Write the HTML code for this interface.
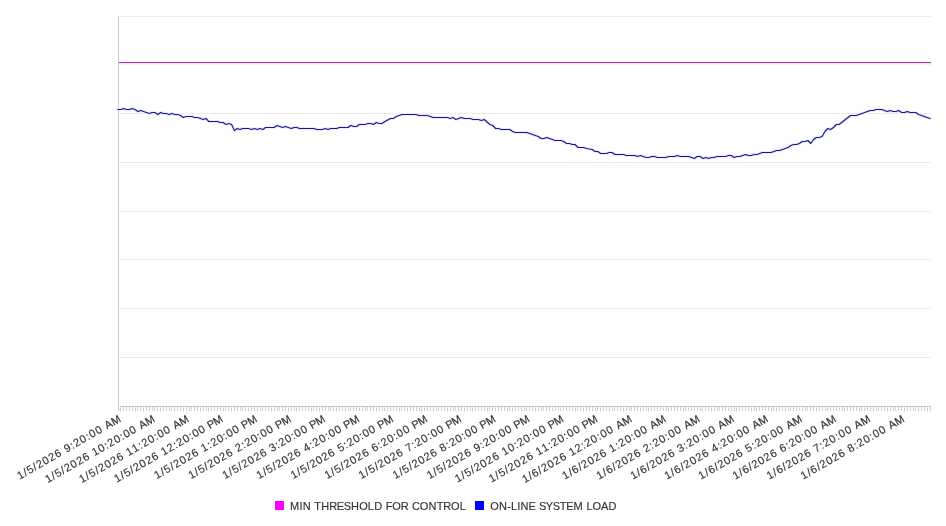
<!DOCTYPE html><html><head><meta charset="utf-8"><style>html,body{margin:0;padding:0;background:#fff;}body{width:946px;height:526px;overflow:hidden;}svg{display:block;will-change:transform;}text{font-family:"Liberation Sans",sans-serif;stroke:#333;stroke-width:0.15px;}</style></head><body>
<svg width="946" height="526" viewBox="0 0 946 526">
<rect x="119" y="16" width="812" height="1" fill="#ebebeb"/>
<rect x="119" y="113" width="812" height="1" fill="#ebebeb"/>
<rect x="119" y="162" width="812" height="1" fill="#ebebeb"/>
<rect x="119" y="211" width="812" height="1" fill="#ebebeb"/>
<rect x="119" y="259" width="812" height="1" fill="#ebebeb"/>
<rect x="119" y="308" width="812" height="1" fill="#ebebeb"/>
<rect x="119" y="357" width="812" height="1" fill="#ebebeb"/>
<rect x="119" y="62" width="812" height="1" fill="#a340a3"/>
<rect x="119" y="63" width="812" height="1" fill="#ffd2ff"/>
<rect x="119" y="64" width="812" height="1" fill="#ffe6ff"/>
<rect x="118" y="16" width="1" height="395" fill="#c8c8c8"/>
<rect x="120" y="406" width="811" height="1" fill="#c8c8c8"/>
<path d="M120.5 407v4M123.5 407v4M126.5 407v4M129.5 407v4M132.5 407v4M135.5 407v4M137.5 407v4M140.5 407v4M143.5 407v4M146.5 407v4M149.5 407v4M152.5 407v4M154.5 407v4M157.5 407v4M160.5 407v4M163.5 407v4M166.5 407v4M169.5 407v4M171.5 407v4M174.5 407v4M177.5 407v4M180.5 407v4M183.5 407v4M186.5 407v4M189.5 407v4M191.5 407v4M194.5 407v4M197.5 407v4M200.5 407v4M203.5 407v4M206.5 407v4M208.5 407v4M211.5 407v4M214.5 407v4M217.5 407v4M220.5 407v4M223.5 407v4M225.5 407v4M228.5 407v4M231.5 407v4M234.5 407v4M237.5 407v4M240.5 407v4M242.5 407v4M245.5 407v4M248.5 407v4M251.5 407v4M254.5 407v4M257.5 407v4M260.5 407v4M262.5 407v4M265.5 407v4M268.5 407v4M271.5 407v4M274.5 407v4M277.5 407v4M279.5 407v4M282.5 407v4M285.5 407v4M288.5 407v4M291.5 407v4M294.5 407v4M296.5 407v4M299.5 407v4M302.5 407v4M305.5 407v4M308.5 407v4M311.5 407v4M313.5 407v4M316.5 407v4M319.5 407v4M322.5 407v4M325.5 407v4M328.5 407v4M330.5 407v4M333.5 407v4M336.5 407v4M339.5 407v4M342.5 407v4M345.5 407v4M348.5 407v4M350.5 407v4M353.5 407v4M356.5 407v4M359.5 407v4M362.5 407v4M365.5 407v4M367.5 407v4M370.5 407v4M373.5 407v4M376.5 407v4M379.5 407v4M382.5 407v4M384.5 407v4M387.5 407v4M390.5 407v4M393.5 407v4M396.5 407v4M399.5 407v4M401.5 407v4M404.5 407v4M407.5 407v4M410.5 407v4M413.5 407v4M416.5 407v4M419.5 407v4M421.5 407v4M424.5 407v4M427.5 407v4M430.5 407v4M433.5 407v4M436.5 407v4M438.5 407v4M441.5 407v4M444.5 407v4M447.5 407v4M450.5 407v4M453.5 407v4M455.5 407v4M458.5 407v4M461.5 407v4M464.5 407v4M467.5 407v4M470.5 407v4M472.5 407v4M475.5 407v4M478.5 407v4M481.5 407v4M484.5 407v4M487.5 407v4M489.5 407v4M492.5 407v4M495.5 407v4M498.5 407v4M501.5 407v4M504.5 407v4M507.5 407v4M509.5 407v4M512.5 407v4M515.5 407v4M518.5 407v4M521.5 407v4M524.5 407v4M526.5 407v4M529.5 407v4M532.5 407v4M535.5 407v4M538.5 407v4M541.5 407v4M543.5 407v4M546.5 407v4M549.5 407v4M552.5 407v4M555.5 407v4M558.5 407v4M560.5 407v4M563.5 407v4M566.5 407v4M569.5 407v4M572.5 407v4M575.5 407v4M577.5 407v4M580.5 407v4M583.5 407v4M586.5 407v4M589.5 407v4M592.5 407v4M595.5 407v4M597.5 407v4M600.5 407v4M603.5 407v4M606.5 407v4M609.5 407v4M612.5 407v4M614.5 407v4M617.5 407v4M620.5 407v4M623.5 407v4M626.5 407v4M629.5 407v4M631.5 407v4M634.5 407v4M637.5 407v4M640.5 407v4M643.5 407v4M646.5 407v4M648.5 407v4M651.5 407v4M654.5 407v4M657.5 407v4M660.5 407v4M663.5 407v4M666.5 407v4M668.5 407v4M671.5 407v4M674.5 407v4M677.5 407v4M680.5 407v4M683.5 407v4M685.5 407v4M688.5 407v4M691.5 407v4M694.5 407v4M697.5 407v4M700.5 407v4M702.5 407v4M705.5 407v4M708.5 407v4M711.5 407v4M714.5 407v4M717.5 407v4M719.5 407v4M722.5 407v4M725.5 407v4M728.5 407v4M731.5 407v4M734.5 407v4M736.5 407v4M739.5 407v4M742.5 407v4M745.5 407v4M748.5 407v4M751.5 407v4M754.5 407v4M756.5 407v4M759.5 407v4M762.5 407v4M765.5 407v4M768.5 407v4M771.5 407v4M773.5 407v4M776.5 407v4M779.5 407v4M782.5 407v4M785.5 407v4M788.5 407v4M790.5 407v4M793.5 407v4M796.5 407v4M799.5 407v4M802.5 407v4M805.5 407v4M807.5 407v4M810.5 407v4M813.5 407v4M816.5 407v4M819.5 407v4M822.5 407v4M825.5 407v4M827.5 407v4M830.5 407v4M833.5 407v4M836.5 407v4M839.5 407v4M842.5 407v4M844.5 407v4M847.5 407v4M850.5 407v4M853.5 407v4M856.5 407v4M859.5 407v4M861.5 407v4M864.5 407v4M867.5 407v4M870.5 407v4M873.5 407v4M876.5 407v4M878.5 407v4M881.5 407v4M884.5 407v4M887.5 407v4M890.5 407v4M893.5 407v4M895.5 407v4M898.5 407v4M901.5 407v4M904.5 407v4M907.5 407v4M910.5 407v4M913.5 407v4M915.5 407v4M918.5 407v4M921.5 407v4M924.5 407v4M927.5 407v4M930.5 407v4" stroke="#cfcfcf" stroke-width="1" fill="none"/>
<path d="M118.00 109.5 L120.84 109.5 L123.68 108.5 L126.52 109.5 L129.36 109.5 L132.20 108.5 L135.03 109.5 L137.87 111.5 L140.71 110.5 L143.55 111.5 L146.39 112.5 L149.23 113.5 L152.07 112.5 L154.91 112.5 L157.75 114.5 L160.59 112.5 L163.43 113.5 L166.27 113.5 L169.10 114.5 L171.94 113.5 L174.78 114.5 L177.62 114.5 L180.46 115.5 L183.30 117.5 L186.14 116.5 L191.82 116.5 L194.66 117.5 L197.50 117.5 L200.34 118.5 L203.17 119.5 L206.01 118.5 L208.85 121.5 L211.69 121.5 L217.37 121.5 L220.21 122.5 L223.05 122.5 L225.89 124.5 L228.73 123.5 L231.57 124.5 L234.41 130.5 L237.24 128.5 L240.08 129.5 L242.92 128.5 L248.60 128.5 L251.44 129.5 L254.28 128.5 L257.12 129.5 L259.96 128.5 L262.80 129.5 L265.64 127.5 L274.15 127.5 L276.99 125.5 L279.83 126.5 L282.67 127.5 L285.51 126.5 L288.35 127.5 L291.19 128.5 L294.03 127.5 L296.87 127.5 L299.71 128.5 L313.90 128.5 L316.74 129.5 L322.42 129.5 L325.26 128.5 L328.10 129.5 L330.94 128.5 L336.62 128.5 L339.45 127.5 L347.97 127.5 L350.81 125.5 L353.65 126.5 L356.49 126.5 L359.33 124.5 L365.01 124.5 L367.85 123.5 L370.69 123.5 L373.52 124.5 L376.36 122.5 L379.20 123.5 L382.04 123.5 L384.88 121.5 L390.56 118.5 L393.40 118.5 L396.24 116.5 L399.08 115.5 L401.92 114.5 L416.11 114.5 L418.95 115.5 L427.47 115.5 L430.31 116.5 L433.15 117.5 L447.34 117.5 L450.18 118.5 L453.02 117.5 L455.86 119.5 L458.70 118.5 L461.54 117.5 L464.38 118.5 L470.06 118.5 L472.90 119.5 L478.57 119.5 L481.41 120.5 L484.25 119.5 L489.93 124.5 L492.77 125.5 L495.61 128.5 L498.45 128.5 L501.29 129.5 L509.80 129.5 L512.64 131.5 L515.48 132.5 L526.84 132.5 L529.68 133.5 L532.52 134.5 L535.36 135.5 L538.20 136.5 L541.03 138.5 L543.87 138.5 L546.71 137.5 L549.55 138.5 L552.39 139.5 L555.23 140.5 L560.91 140.5 L563.75 141.5 L566.59 143.5 L569.43 143.5 L572.27 144.5 L575.10 144.5 L577.94 147.5 L583.62 147.5 L586.46 148.5 L592.14 149.5 L594.98 151.5 L597.82 151.5 L600.66 153.5 L606.34 153.5 L609.17 152.5 L612.01 152.5 L614.85 154.5 L623.37 154.5 L626.21 155.5 L634.73 155.5 L637.57 156.5 L640.41 155.5 L643.24 156.5 L646.08 157.5 L648.92 157.5 L651.76 156.5 L654.60 156.5 L657.44 157.5 L665.96 157.5 L668.80 156.5 L674.48 156.5 L677.31 155.5 L680.15 156.5 L688.67 156.5 L691.51 157.5 L694.35 158.5 L697.19 156.5 L700.03 156.5 L702.87 158.5 L705.71 157.5 L708.55 158.5 L711.38 157.5 L714.22 157.5 L717.06 156.5 L725.58 156.5 L728.42 155.5 L731.26 155.5 L734.10 157.5 L736.94 156.5 L739.78 156.5 L742.62 155.5 L745.45 154.5 L748.29 155.5 L751.13 155.5 L753.97 154.5 L756.81 154.5 L759.65 153.5 L762.49 152.5 L771.01 152.5 L773.85 151.5 L776.69 150.5 L779.52 150.5 L782.36 149.5 L785.20 148.5 L788.04 147.5 L790.88 145.5 L793.72 144.5 L796.56 144.5 L799.40 143.5 L802.24 141.5 L805.08 141.5 L807.92 140.5 L810.76 143.5 L813.59 139.5 L816.43 137.5 L819.27 137.5 L822.11 136.5 L824.95 131.5 L827.79 128.5 L830.63 129.5 L833.47 127.5 L836.31 124.5 L839.15 124.5 L850.50 115.5 L856.18 115.5 L870.38 110.5 L873.22 110.5 L876.06 109.5 L881.73 109.5 L884.57 110.5 L887.41 111.5 L890.25 110.5 L893.09 111.5 L895.93 111.5 L898.77 110.5 L901.61 112.5 L904.45 112.5 L907.29 111.5 L910.13 112.5 L915.80 112.5 L918.64 114.5 L924.32 116.5 L930.00 118.5" stroke="#e8e8ff" stroke-width="3" fill="none" stroke-linejoin="round" stroke-linecap="square"/>
<path d="M118.00 109.5 L120.84 109.5 L123.68 108.5 L126.52 109.5 L129.36 109.5 L132.20 108.5 L135.03 109.5 L137.87 111.5 L140.71 110.5 L143.55 111.5 L146.39 112.5 L149.23 113.5 L152.07 112.5 L154.91 112.5 L157.75 114.5 L160.59 112.5 L163.43 113.5 L166.27 113.5 L169.10 114.5 L171.94 113.5 L174.78 114.5 L177.62 114.5 L180.46 115.5 L183.30 117.5 L186.14 116.5 L191.82 116.5 L194.66 117.5 L197.50 117.5 L200.34 118.5 L203.17 119.5 L206.01 118.5 L208.85 121.5 L211.69 121.5 L217.37 121.5 L220.21 122.5 L223.05 122.5 L225.89 124.5 L228.73 123.5 L231.57 124.5 L234.41 130.5 L237.24 128.5 L240.08 129.5 L242.92 128.5 L248.60 128.5 L251.44 129.5 L254.28 128.5 L257.12 129.5 L259.96 128.5 L262.80 129.5 L265.64 127.5 L274.15 127.5 L276.99 125.5 L279.83 126.5 L282.67 127.5 L285.51 126.5 L288.35 127.5 L291.19 128.5 L294.03 127.5 L296.87 127.5 L299.71 128.5 L313.90 128.5 L316.74 129.5 L322.42 129.5 L325.26 128.5 L328.10 129.5 L330.94 128.5 L336.62 128.5 L339.45 127.5 L347.97 127.5 L350.81 125.5 L353.65 126.5 L356.49 126.5 L359.33 124.5 L365.01 124.5 L367.85 123.5 L370.69 123.5 L373.52 124.5 L376.36 122.5 L379.20 123.5 L382.04 123.5 L384.88 121.5 L390.56 118.5 L393.40 118.5 L396.24 116.5 L399.08 115.5 L401.92 114.5 L416.11 114.5 L418.95 115.5 L427.47 115.5 L430.31 116.5 L433.15 117.5 L447.34 117.5 L450.18 118.5 L453.02 117.5 L455.86 119.5 L458.70 118.5 L461.54 117.5 L464.38 118.5 L470.06 118.5 L472.90 119.5 L478.57 119.5 L481.41 120.5 L484.25 119.5 L489.93 124.5 L492.77 125.5 L495.61 128.5 L498.45 128.5 L501.29 129.5 L509.80 129.5 L512.64 131.5 L515.48 132.5 L526.84 132.5 L529.68 133.5 L532.52 134.5 L535.36 135.5 L538.20 136.5 L541.03 138.5 L543.87 138.5 L546.71 137.5 L549.55 138.5 L552.39 139.5 L555.23 140.5 L560.91 140.5 L563.75 141.5 L566.59 143.5 L569.43 143.5 L572.27 144.5 L575.10 144.5 L577.94 147.5 L583.62 147.5 L586.46 148.5 L592.14 149.5 L594.98 151.5 L597.82 151.5 L600.66 153.5 L606.34 153.5 L609.17 152.5 L612.01 152.5 L614.85 154.5 L623.37 154.5 L626.21 155.5 L634.73 155.5 L637.57 156.5 L640.41 155.5 L643.24 156.5 L646.08 157.5 L648.92 157.5 L651.76 156.5 L654.60 156.5 L657.44 157.5 L665.96 157.5 L668.80 156.5 L674.48 156.5 L677.31 155.5 L680.15 156.5 L688.67 156.5 L691.51 157.5 L694.35 158.5 L697.19 156.5 L700.03 156.5 L702.87 158.5 L705.71 157.5 L708.55 158.5 L711.38 157.5 L714.22 157.5 L717.06 156.5 L725.58 156.5 L728.42 155.5 L731.26 155.5 L734.10 157.5 L736.94 156.5 L739.78 156.5 L742.62 155.5 L745.45 154.5 L748.29 155.5 L751.13 155.5 L753.97 154.5 L756.81 154.5 L759.65 153.5 L762.49 152.5 L771.01 152.5 L773.85 151.5 L776.69 150.5 L779.52 150.5 L782.36 149.5 L785.20 148.5 L788.04 147.5 L790.88 145.5 L793.72 144.5 L796.56 144.5 L799.40 143.5 L802.24 141.5 L805.08 141.5 L807.92 140.5 L810.76 143.5 L813.59 139.5 L816.43 137.5 L819.27 137.5 L822.11 136.5 L824.95 131.5 L827.79 128.5 L830.63 129.5 L833.47 127.5 L836.31 124.5 L839.15 124.5 L850.50 115.5 L856.18 115.5 L870.38 110.5 L873.22 110.5 L876.06 109.5 L881.73 109.5 L884.57 110.5 L887.41 111.5 L890.25 110.5 L893.09 111.5 L895.93 111.5 L898.77 110.5 L901.61 112.5 L904.45 112.5 L907.29 111.5 L910.13 112.5 L915.80 112.5 L918.64 114.5 L924.32 116.5 L930.00 118.5" stroke="#18188c" stroke-width="1.1" fill="none" stroke-linejoin="round" stroke-linecap="square"/>
<text x="-117.56 -110.53 -106.56 -99.53 -95.56 -88.56 -81.56 -74.56 -67.53 -63.56 -56.53 -52.56 -45.56 -38.53 -34.56 -27.56 -20.53 -16.67 -9.08" y="0" transform="translate(121.50,421.1) rotate(-30)" font-size="11" fill="#333">1/5/2026 9:20:00 AM</text>
<text x="-124.56 -117.53 -113.56 -106.53 -102.56 -95.56 -88.56 -81.56 -74.53 -70.56 -63.56 -56.53 -52.56 -45.56 -38.53 -34.56 -27.56 -20.53 -16.67 -9.08" y="0" transform="translate(155.57,421.1) rotate(-30)" font-size="11" fill="#333">1/5/2026 10:20:00 AM</text>
<text x="-124.56 -117.53 -113.56 -106.53 -102.56 -95.56 -88.56 -81.56 -74.53 -70.56 -63.56 -56.53 -52.56 -45.56 -38.53 -34.56 -27.56 -20.53 -16.67 -9.08" y="0" transform="translate(189.64,421.1) rotate(-30)" font-size="11" fill="#333">1/5/2026 11:20:00 AM</text>
<text x="-123.56 -116.53 -112.56 -105.53 -101.56 -94.56 -87.56 -80.56 -73.53 -69.56 -62.56 -55.53 -51.56 -44.56 -37.53 -33.56 -26.56 -19.53 -16.17 -9.08" y="0" transform="translate(223.71,421.1) rotate(-30)" font-size="11" fill="#333">1/5/2026 12:20:00 PM</text>
<text x="-116.56 -109.53 -105.56 -98.53 -94.56 -87.56 -80.56 -73.56 -66.53 -62.56 -55.53 -51.56 -44.56 -37.53 -33.56 -26.56 -19.53 -16.17 -9.08" y="0" transform="translate(257.78,421.1) rotate(-30)" font-size="11" fill="#333">1/5/2026 1:20:00 PM</text>
<text x="-116.56 -109.53 -105.56 -98.53 -94.56 -87.56 -80.56 -73.56 -66.53 -62.56 -55.53 -51.56 -44.56 -37.53 -33.56 -26.56 -19.53 -16.17 -9.08" y="0" transform="translate(291.85,421.1) rotate(-30)" font-size="11" fill="#333">1/5/2026 2:20:00 PM</text>
<text x="-116.56 -109.53 -105.56 -98.53 -94.56 -87.56 -80.56 -73.56 -66.53 -62.56 -55.53 -51.56 -44.56 -37.53 -33.56 -26.56 -19.53 -16.17 -9.08" y="0" transform="translate(325.92,421.1) rotate(-30)" font-size="11" fill="#333">1/5/2026 3:20:00 PM</text>
<text x="-116.56 -109.53 -105.56 -98.53 -94.56 -87.56 -80.56 -73.56 -66.53 -62.56 -55.53 -51.56 -44.56 -37.53 -33.56 -26.56 -19.53 -16.17 -9.08" y="0" transform="translate(359.99,421.1) rotate(-30)" font-size="11" fill="#333">1/5/2026 4:20:00 PM</text>
<text x="-116.56 -109.53 -105.56 -98.53 -94.56 -87.56 -80.56 -73.56 -66.53 -62.56 -55.53 -51.56 -44.56 -37.53 -33.56 -26.56 -19.53 -16.17 -9.08" y="0" transform="translate(394.06,421.1) rotate(-30)" font-size="11" fill="#333">1/5/2026 5:20:00 PM</text>
<text x="-116.56 -109.53 -105.56 -98.53 -94.56 -87.56 -80.56 -73.56 -66.53 -62.56 -55.53 -51.56 -44.56 -37.53 -33.56 -26.56 -19.53 -16.17 -9.08" y="0" transform="translate(428.13,421.1) rotate(-30)" font-size="11" fill="#333">1/5/2026 6:20:00 PM</text>
<text x="-116.56 -109.53 -105.56 -98.53 -94.56 -87.56 -80.56 -73.56 -66.53 -62.56 -55.53 -51.56 -44.56 -37.53 -33.56 -26.56 -19.53 -16.17 -9.08" y="0" transform="translate(462.20,421.1) rotate(-30)" font-size="11" fill="#333">1/5/2026 7:20:00 PM</text>
<text x="-116.56 -109.53 -105.56 -98.53 -94.56 -87.56 -80.56 -73.56 -66.53 -62.56 -55.53 -51.56 -44.56 -37.53 -33.56 -26.56 -19.53 -16.17 -9.08" y="0" transform="translate(496.27,421.1) rotate(-30)" font-size="11" fill="#333">1/5/2026 8:20:00 PM</text>
<text x="-116.56 -109.53 -105.56 -98.53 -94.56 -87.56 -80.56 -73.56 -66.53 -62.56 -55.53 -51.56 -44.56 -37.53 -33.56 -26.56 -19.53 -16.17 -9.08" y="0" transform="translate(530.34,421.1) rotate(-30)" font-size="11" fill="#333">1/5/2026 9:20:00 PM</text>
<text x="-123.56 -116.53 -112.56 -105.53 -101.56 -94.56 -87.56 -80.56 -73.53 -69.56 -62.56 -55.53 -51.56 -44.56 -37.53 -33.56 -26.56 -19.53 -16.17 -9.08" y="0" transform="translate(564.41,421.1) rotate(-30)" font-size="11" fill="#333">1/5/2026 10:20:00 PM</text>
<text x="-123.56 -116.53 -112.56 -105.53 -101.56 -94.56 -87.56 -80.56 -73.53 -69.56 -62.56 -55.53 -51.56 -44.56 -37.53 -33.56 -26.56 -19.53 -16.17 -9.08" y="0" transform="translate(598.48,421.1) rotate(-30)" font-size="11" fill="#333">1/5/2026 11:20:00 PM</text>
<text x="-124.56 -117.53 -113.56 -106.53 -102.56 -95.56 -88.56 -81.56 -74.53 -70.56 -63.56 -56.53 -52.56 -45.56 -38.53 -34.56 -27.56 -20.53 -16.67 -9.08" y="0" transform="translate(632.55,421.1) rotate(-30)" font-size="11" fill="#333">1/6/2026 12:20:00 AM</text>
<text x="-117.56 -110.53 -106.56 -99.53 -95.56 -88.56 -81.56 -74.56 -67.53 -63.56 -56.53 -52.56 -45.56 -38.53 -34.56 -27.56 -20.53 -16.67 -9.08" y="0" transform="translate(666.62,421.1) rotate(-30)" font-size="11" fill="#333">1/6/2026 1:20:00 AM</text>
<text x="-117.56 -110.53 -106.56 -99.53 -95.56 -88.56 -81.56 -74.56 -67.53 -63.56 -56.53 -52.56 -45.56 -38.53 -34.56 -27.56 -20.53 -16.67 -9.08" y="0" transform="translate(700.69,421.1) rotate(-30)" font-size="11" fill="#333">1/6/2026 2:20:00 AM</text>
<text x="-117.56 -110.53 -106.56 -99.53 -95.56 -88.56 -81.56 -74.56 -67.53 -63.56 -56.53 -52.56 -45.56 -38.53 -34.56 -27.56 -20.53 -16.67 -9.08" y="0" transform="translate(734.76,421.1) rotate(-30)" font-size="11" fill="#333">1/6/2026 3:20:00 AM</text>
<text x="-117.56 -110.53 -106.56 -99.53 -95.56 -88.56 -81.56 -74.56 -67.53 -63.56 -56.53 -52.56 -45.56 -38.53 -34.56 -27.56 -20.53 -16.67 -9.08" y="0" transform="translate(768.83,421.1) rotate(-30)" font-size="11" fill="#333">1/6/2026 4:20:00 AM</text>
<text x="-117.56 -110.53 -106.56 -99.53 -95.56 -88.56 -81.56 -74.56 -67.53 -63.56 -56.53 -52.56 -45.56 -38.53 -34.56 -27.56 -20.53 -16.67 -9.08" y="0" transform="translate(802.90,421.1) rotate(-30)" font-size="11" fill="#333">1/6/2026 5:20:00 AM</text>
<text x="-117.56 -110.53 -106.56 -99.53 -95.56 -88.56 -81.56 -74.56 -67.53 -63.56 -56.53 -52.56 -45.56 -38.53 -34.56 -27.56 -20.53 -16.67 -9.08" y="0" transform="translate(836.97,421.1) rotate(-30)" font-size="11" fill="#333">1/6/2026 6:20:00 AM</text>
<text x="-117.56 -110.53 -106.56 -99.53 -95.56 -88.56 -81.56 -74.56 -67.53 -63.56 -56.53 -52.56 -45.56 -38.53 -34.56 -27.56 -20.53 -16.67 -9.08" y="0" transform="translate(871.04,421.1) rotate(-30)" font-size="11" fill="#333">1/6/2026 7:20:00 AM</text>
<text x="-117.56 -110.53 -106.56 -99.53 -95.56 -88.56 -81.56 -74.56 -67.53 -63.56 -56.53 -52.56 -45.56 -38.53 -34.56 -27.56 -20.53 -16.67 -9.08" y="0" transform="translate(905.11,421.1) rotate(-30)" font-size="11" fill="#333">1/6/2026 8:20:00 AM</text>
<rect x="275" y="501" width="9" height="9" fill="#ff00ff"/>
<text x="290.06 299.48 302.78 311.08 314.36 321.24 329.20 336.80 343.77 351.09 359.25 367.86 374.25 382.67 385.76 392.33 400.79 408.80 411.95 419.81 428.56 436.64 443.21 451.06 459.67" y="510" font-size="11" fill="#333">MIN THRESHOLD FOR CONTROL</text>
<rect x="475" y="501" width="9" height="9" fill="#0000ff"/>
<text x="490.25 499.00 507.24 511.06 517.28 520.57 528.46 535.82 538.92 545.77 552.63 559.79 566.31 573.62 583.17 586.45 592.62 600.93 608.43" y="510" font-size="11" fill="#333">ON-LINE SYSTEM LOAD</text>
</svg></body></html>
